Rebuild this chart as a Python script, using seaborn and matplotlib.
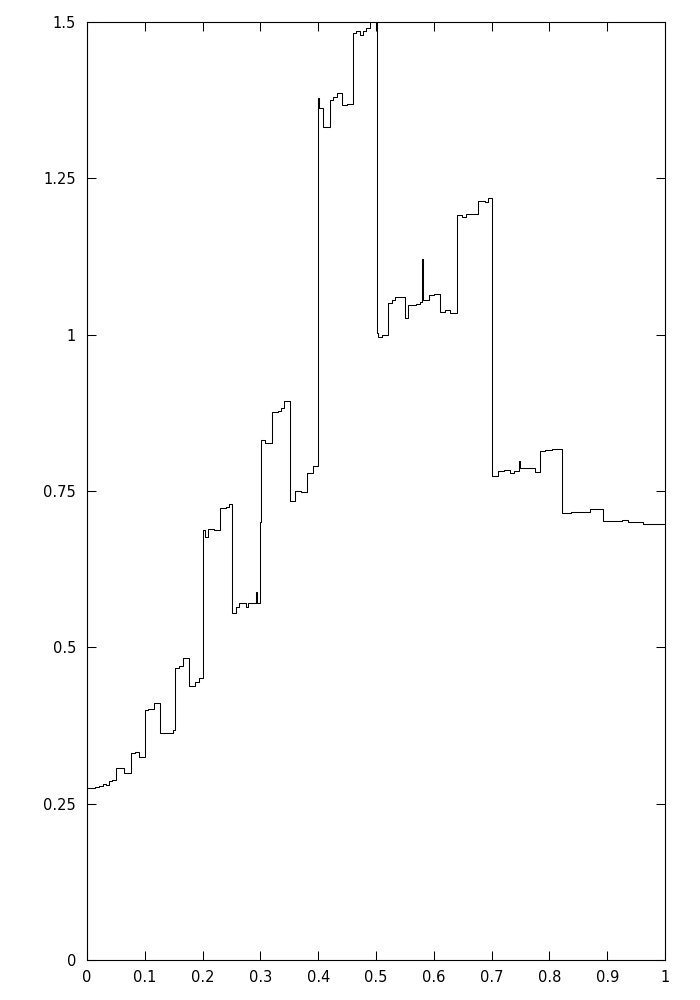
import matplotlib
matplotlib.use("Agg")
import matplotlib.pyplot as plt
import seaborn as sns
import pandas as pd

# step starts (x) and the level held until the next x
step_x = [
    0.000, 0.014, 0.021, 0.027, 0.033, 0.0386, 0.044, 0.050, 0.0645, 0.076,
    0.083, 0.090, 0.1003, 0.106, 0.116, 0.126, 0.149, 0.152, 0.160, 0.166,
    0.177, 0.186, 0.193, 0.201, 0.205, 0.209, 0.220, 0.230, 0.240, 0.246,
    0.2514, 0.2573, 0.263, 0.2746, 0.279, 0.2924, 0.2935, 0.2993, 0.3012, 0.308,
    0.3206, 0.330, 0.336, 0.341, 0.351, 0.360, 0.370, 0.380, 0.3915, 0.400,
    0.4015, 0.409, 0.420, 0.426, 0.432, 0.4406, 0.450, 0.4607, 0.466, 0.4715,
    0.4775, 0.482, 0.4896, 0.501, 0.504, 0.511, 0.520, 0.527, 0.533, 0.5415,
    0.550, 0.556, 0.570, 0.576, 0.580, 0.5815, 0.592, 0.600, 0.6107, 0.620,
    0.628, 0.6407, 0.648, 0.655, 0.677, 0.688, 0.693, 0.701, 0.7116, 0.722,
    0.732, 0.738, 0.748, 0.7495, 0.766, 0.775, 0.784, 0.793, 0.805, 0.821,
    0.838, 0.8702, 0.892, 0.925, 0.9365, 0.9625, 1.000,
]
step_y = [
    0.2746, 0.2762, 0.2783, 0.2815, 0.2800, 0.2868, 0.2885, 0.3075, 0.2985, 0.3305,
    0.3332, 0.3240, 0.3998, 0.4020, 0.4115, 0.3625, 0.3680, 0.4675, 0.4695, 0.4825,
    0.4387, 0.4450, 0.4504, 0.6877, 0.6770, 0.6900, 0.6880, 0.7223, 0.7250, 0.7300,
    0.5555, 0.5650, 0.5704, 0.5640, 0.5704, 0.5890, 0.5714, 0.7000, 0.8316, 0.8260,
    0.8770, 0.8780, 0.8820, 0.8945, 0.7346, 0.7500, 0.7480, 0.7790, 0.7900, 1.3780,
    1.3620, 1.3327, 1.3750, 1.3800, 1.3870, 1.3670, 1.3690, 1.4820, 1.4850, 1.4800,
    1.4850, 1.4900, 1.6000, 1.0022, 0.9958, 0.9990, 1.0510, 1.0555, 1.0610, 1.0600,
    1.0260, 1.0475, 1.0495, 1.0520, 1.1205, 1.0555, 1.0635, 1.0650, 1.0370, 1.0400,
    1.0350, 1.1914, 1.1880, 1.1930, 1.2143, 1.2120, 1.2190, 0.7740, 0.7826, 0.7840,
    0.7790, 0.7826, 0.7980, 0.7860, 0.7860, 0.7810, 0.8140, 0.8160, 0.8166, 0.7143,
    0.7160, 0.7212, 0.7020, 0.7035, 0.7000, 0.6980, 0.6980,
]

x_ticks = [0, 0.1, 0.2, 0.3, 0.4, 0.5, 0.6, 0.7, 0.8, 0.9, 1]
x_labels = ["0", "0.1", "0.2", "0.3", "0.4", "0.5", "0.6", "0.7", "0.8", "0.9", "1"]
y_ticks = [0, 0.25, 0.5, 0.75, 1, 1.25, 1.5]
y_labels = ["0", "0.25", "0.5", "0.75", "1", "1.25", "1.5"]

df = pd.DataFrame({"x": step_x, "y": step_y})

sns.set_style("ticks")
plt.rcParams["font.family"] = ["DejaVu Sans"]

fig = plt.figure(figsize=(7, 10), dpi=100)
ax = fig.add_axes([0.1243, 0.04, 0.8257, 0.938])

sns.lineplot(data=df, x="x", y="y", ax=ax, estimator=None, sort=False,
             drawstyle="steps-post", color="black", linewidth=0.75)

ax.set_xlim(0, 1)
ax.set_ylim(0, 1.5)
ax.set_xticks(x_ticks)
ax.set_xticklabels(x_labels)
ax.set_yticks(y_ticks)
ax.set_yticklabels(y_labels)
ax.set_xlabel("")
ax.set_ylabel("")

for s in ax.spines.values():
    s.set_visible(True)
    s.set_linewidth(0.8)
    s.set_color("black")

ax.tick_params(axis="both", direction="in", top=True, right=True,
               length=6.5, width=0.75, labelsize=10.5, colors="black")
ax.tick_params(axis="y", pad=8)
ax.tick_params(axis="x", pad=7)

fig.savefig("out.png", dpi=100)
